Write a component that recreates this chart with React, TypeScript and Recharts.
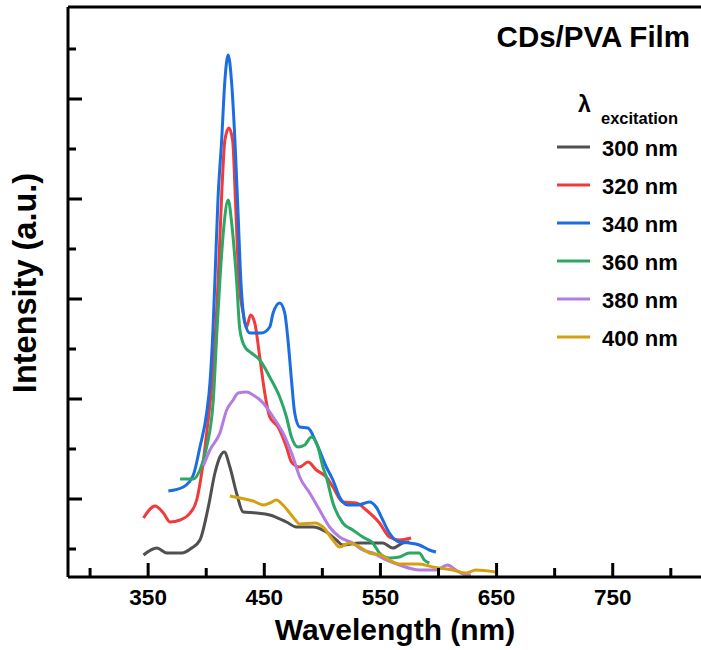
import { Label, Legend, Line, LineChart, ReferenceLine, XAxis, YAxis } from "recharts";

// emission spectra of CDs/PVA film, [wavelength nm, intensity a.u.]
const ex300: [number, number][] = [
  [346.0, -60], [357.5, 10], [366.1, -40], [378.9, -40], [387.5, 10], [394.6, 90], [401.8, 420],
  [407.5, 760], [411.8, 920], [415.5, 970], [420.4, 820], [426.1, 560], [431.8, 370], [443.3, 360],
  [454.7, 340], [469.1, 270], [477.6, 220], [491.9, 220], [503.4, 170], [512.0, 90], [517.6, 40],
  [532.0, 60], [552.0, 60], [560.6, 10], [569.2, 60], [574.9, 70],
];
const ex320: [number, number][] = [
  [346.0, 310], [356.0, 430], [363.1, 360], [368.9, 270], [377.5, 290], [386.1, 360], [391.8, 490],
  [396.1, 760], [400.4, 1160], [406.1, 1820], [410.3, 2690], [413.5, 3590], [416.1, 4090], [419.5, 4210],
  [422.7, 4090], [425.5, 3390], [428.1, 2690], [431.8, 2360], [434.7, 2220], [438.2, 2340], [441.8, 2260],
  [446.1, 1920], [450.4, 1560], [454.7, 1320], [461.9, 1220], [469.1, 1020], [473.4, 870], [480.5, 820],
  [487.6, 870], [494.8, 790], [503.4, 720], [509.1, 620], [517.6, 470], [529.2, 460], [537.7, 390],
  [549.2, 260], [557.7, 120], [566.3, 90], [576.4, 110],
];
const ex340: [number, number][] = [
  [367.4, 580], [380.3, 620], [388.9, 740], [394.6, 1020], [400.4, 1360], [403.2, 1660], [405.8, 2190],
  [407.5, 2690], [410.1, 3490], [413.3, 4090], [416.1, 4690], [418.9, 4940], [421.7, 4690], [424.7, 4090],
  [427.3, 3390], [429.8, 2690], [433.3, 2260], [437.6, 2160], [447.6, 2160], [454.7, 2220], [457.6, 2360],
  [463.3, 2460], [467.6, 2360], [470.4, 2090], [473.4, 1690], [476.2, 1360], [480.5, 1220], [487.6, 1210],
  [494.8, 1060], [503.4, 820], [509.1, 690], [514.8, 520], [521.9, 440], [530.5, 440], [540.6, 470],
  [546.3, 420], [552.0, 290], [557.7, 160], [566.3, 70], [574.9, 60], [583.5, 40], [592.1, -10], [597.8, -30],
];
const ex360: [number, number][] = [
  [377.5, 700], [388.9, 700], [394.6, 790], [400.4, 1020], [406.1, 1490], [409.3, 2190], [411.8, 2690],
  [415.3, 3240], [418.9, 3490], [422.1, 3240], [426.1, 2690], [429.0, 2190], [433.3, 2020], [439.0, 1960],
  [446.1, 1890], [454.7, 1720], [463.3, 1520], [469.1, 1320], [473.4, 1120], [479.0, 1020], [484.8, 1040],
  [490.5, 1120], [496.2, 1020], [500.5, 820], [503.4, 720], [509.1, 460], [517.6, 260], [526.2, 190],
  [534.8, 120], [543.4, 60], [549.2, -40], [557.7, -90], [566.3, -80], [574.9, -40], [583.5, -40],
  [587.8, -110], [592.1, -140],
];
const ex380: [number, number][] = [
  [397.5, 830], [403.2, 990], [411.8, 1160], [417.6, 1390], [423.2, 1490], [427.5, 1560], [434.7, 1570],
  [440.4, 1540], [449.0, 1460], [457.6, 1320], [466.1, 1160], [474.7, 920], [480.5, 720], [489.1, 560],
  [497.6, 390], [506.2, 220], [514.8, 120], [526.2, 60], [534.8, -10], [543.4, -40], [554.9, -110],
  [566.3, -160], [583.5, -210], [597.8, -210], [607.8, -160], [615.0, -210], [623.6, -260], [627.9, -260],
];
const ex400: [number, number][] = [
  [420.4, 530], [429.0, 510], [440.4, 480], [449.0, 440], [454.7, 460], [460.5, 490], [466.1, 440],
  [474.7, 320], [480.5, 250], [493.4, 260], [500.5, 220], [509.1, 90], [514.8, 20], [523.4, 60],
  [532.0, 20], [540.6, -40], [550.6, -60], [557.7, -110], [566.3, -150], [583.5, -150], [594.9, -180],
  [612.1, -210], [623.6, -240], [632.2, -210], [649.3, -230],
];

const seriesNames = ["300 nm", "320 nm", "340 nm", "360 nm", "380 nm", "400 nm"];
const seriesColors = ["#505050", "#f03a3c", "#1a6de2", "#2ca765", "#b47be2", "#d4a012"];
const seriesData = [ex300, ex320, ex340, ex360, ex380, ex400];

const wlTicks = [300, 350, 400, 450, 500, 550, 600, 650, 700, 750, 800];
const intensityTicks = [0, 500, 1000, 1500, 2000, 2500, 3000, 3500, 4000, 4500, 5000];

const FONT = "Arial, 'Liberation Sans', sans-serif";

const toPoints = (arr: [number, number][]) => arr.map(([nm, v]) => ({ nm, v }));

function XTick(props: any) {
  const { x, y, payload } = props;
  const major = payload.value % 100 === 50;
  return (
    <g>
      <line x1={x} x2={x} y1={y} y2={y - (major ? 14 : 9)} stroke="#000" strokeWidth={3} />
      {major && (
        <text x={x} y={y + 28} textAnchor="middle" fontFamily={FONT} fontSize={22.5} fontWeight="bold" fill="#000">
          {payload.value}
        </text>
      )}
    </g>
  );
}

function YTick(props: any) {
  const { x, y, payload } = props;
  const major = payload.value % 1000 === 500;
  return <line x1={x} x2={x + (major ? 14 : 8)} y1={y} y2={y} stroke="#000" strokeWidth={3} />;
}

function LegendBox(props: any) {
  const payload = props.payload ?? [];
  return (
    <svg width={701} height={360} style={{ display: "block" }}>
      <text x={690} y={47} textAnchor="end" fontFamily={FONT} fontSize={29.5} fontWeight="bold" fill="#000">
        CDs/PVA Film
      </text>
      <text x={578} y={112} fontFamily={FONT} fontSize={23} fontWeight="bold" fill="#000">
        λ
      </text>
      <text x={601} y={124} fontFamily={FONT} fontSize={16.5} fontWeight="bold" fill="#000">
        excitation
      </text>
      {payload.map((p: any, i: number) => (
        <g key={p.value}>
          <line x1={557} x2={590} y1={147 + i * 38} y2={147 + i * 38} stroke={p.color} strokeWidth={3} />
          <text x={602} y={156 + i * 38} fontFamily={FONT} fontSize={22} fontWeight="bold" fill="#000">
            {p.value}
          </text>
        </g>
      ))}
    </svg>
  );
}

export default function App() {
  return (
    <div style={{ position: "absolute", left: 0, top: 0, width: 701, height: 650 }}>
      <LineChart width={701} height={650} margin={{ top: 7, right: 0, left: 0, bottom: 0 }}>
        <XAxis
          dataKey="nm"
          type="number"
          domain={[281, 826]}
          allowDataOverflow
          ticks={wlTicks}
          interval={0}
          height={73}
          tickSize={0}
          tickMargin={0}
          tickLine={false}
          tick={XTick}
          axisLine={{ stroke: "#000", strokeWidth: 3 }}
        >
          <Label
            content={() => (
              <text x={395} y={640} textAnchor="middle" fontFamily={FONT} fontSize={30} fontWeight="bold" fill="#000">
                Wavelength (nm)
              </text>
            )}
          />
        </XAxis>
        <YAxis
          type="number"
          domain={[-280, 5420]}
          allowDataOverflow
          ticks={intensityTicks}
          interval={0}
          width={68}
          tickSize={0}
          tickMargin={0}
          tickLine={false}
          tick={YTick}
          axisLine={{ stroke: "#000", strokeWidth: 3 }}
        >
          <Label
            content={() => (
              <text
                x={36}
                y={283}
                transform="rotate(-90 36 283)"
                textAnchor="middle"
                fontFamily={FONT}
                fontSize={32.5}
                fontWeight="bold"
                fill="#000"
              >
                Intensity (a.u.)
              </text>
            )}
          />
        </YAxis>
        <ReferenceLine y={5420} stroke="#000" strokeWidth={3} />
        {seriesData.map((d, i) => (
          <Line
            key={seriesNames[i]}
            data={toPoints(d)}
            dataKey="v"
            name={seriesNames[i]}
            type="monotone"
            stroke={seriesColors[i]}
            strokeWidth={3}
            dot={false}
            activeDot={false}
            isAnimationActive={false}
          />
        ))}
        <Legend
          layout="vertical"
          align="center"
          verticalAlign="middle"
          content={LegendBox}
          wrapperStyle={{ left: 0, top: 0, width: 701, height: 360, pointerEvents: "none" }}
        />
      </LineChart>
    </div>
  );
}
